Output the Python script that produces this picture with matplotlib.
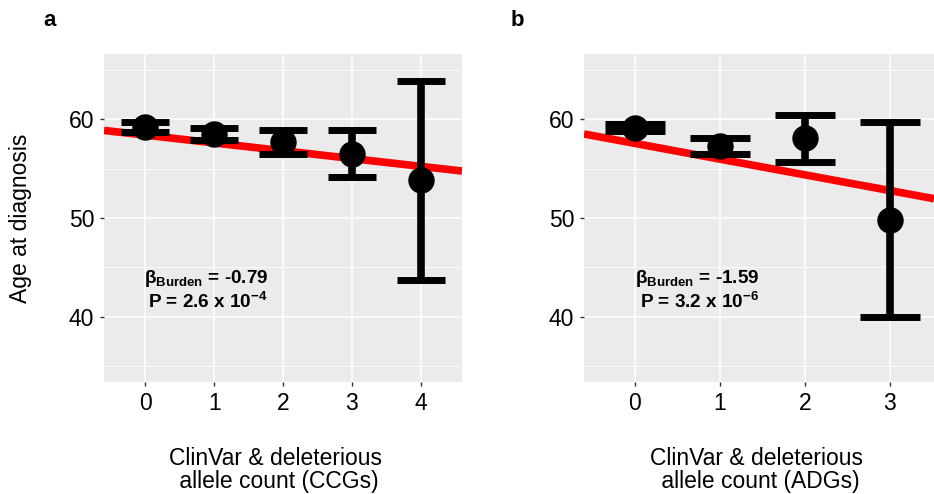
import matplotlib
matplotlib.use("Agg")
import matplotlib.pyplot as plt
import numpy as np

plt.rcParams['font.family'] = ['Liberation Sans', 'DejaVu Sans']
plt.rcParams['mathtext.fontset'] = 'custom'
plt.rcParams['mathtext.rm'] = 'Liberation Sans'
plt.rcParams['mathtext.bf'] = 'Liberation Sans:bold'

# panel a: CCGs
counts_a = [0, 1, 2, 3, 4]
mean_a = [59.2, 58.5, 57.7, 56.5, 53.8]
low_a = [58.7, 57.9, 56.5, 54.1, 43.7]
high_a = [59.7, 59.1, 58.9, 58.9, 63.9]
fit_a = (58.39, -0.79)          # intercept, slope
beta_a = "-0.79"
p_a = ("2.6", "-4")

# panel b: ADGs
counts_b = [0, 1, 2, 3]
mean_b = [59.1, 57.3, 58.05, 49.8]
low_b = [58.8, 56.5, 55.7, 40.0]
high_b = [59.55, 58.1, 60.4, 59.7]
fit_b = (57.55, -1.59)
beta_b = "-1.59"
p_b = ("3.2", "-6")

fig = plt.figure(figsize=(9.34, 4.94), dpi=100)
H = 494.0
W = 934.0
ax_a = fig.add_axes([104 / W, (H - 382) / H, 358 / W, 328 / H])
ax_b = fig.add_axes([584 / W, (H - 382) / H, 350 / W, 328 / H])

fs = 16.5


def panel(ax, x, m, lo, hi, fit, xlim, beta, p, txt_x, xlab, xlab_x):
    ax.set_facecolor('#EBEBEB')
    for s in ax.spines.values():
        s.set_visible(False)
    ax.set_xlim(*xlim)
    ax.set_ylim(33.4, 66.6)
    ax.set_xticks(x)
    ax.set_yticks([40, 50, 60])
    ax.set_yticks([35, 45, 55, 65], minor=True)
    ax.grid(which='major', color='white', lw=1.1)
    ax.grid(which='minor', axis='y', color='white', lw=0.55)
    ax.set_axisbelow(True)
    ax.tick_params(which='major', length=3, width=1, color='#333333',
                   labelsize=fs, labelcolor='black', pad=4)
    ax.tick_params(which='minor', length=0)

    # regression line, then error bars, then means on top
    xx = np.array(xlim)
    ax.plot(xx, fit[0] + fit[1] * xx, color='red', lw=5.5, zorder=2,
            solid_capstyle='butt')
    ax.vlines(x, lo, hi, color='black', lw=5.5, zorder=3)
    xs = np.array(x)
    ax.hlines(lo, xs - 0.35, xs + 0.35, color='black', lw=5, zorder=3)
    ax.hlines(hi, xs - 0.35, xs + 0.35, color='black', lw=5, zorder=3)
    ax.plot(x, m, 'o', color='black', ms=18, zorder=4)

    ax.text(txt_x, 43.9, r"β$_{\mathbf{Burden}}$ = " + beta, ha='center',
            va='center', fontsize=13.6, fontweight='bold')
    ax.text(txt_x + 0.02, 41.5, "P = " + p[0] + " x 10" + r"$^{\mathbf{" + p[1] + "}}$",
            ha='center', va='center', fontsize=13.6, fontweight='bold')

    ax.set_xlabel(xlab, fontsize=fs, linespacing=1.0, va='top')
    ax.xaxis.set_label_coords(xlab_x, -0.198)


panel(ax_a, counts_a, mean_a, low_a, high_a, fit_a, (-0.6, 4.6), beta_a, p_a,
      0.89, "ClinVar & deleterious\n allele count (CCGs)", 0.48)
panel(ax_b, counts_b, mean_b, low_b, high_b, fit_b, (-0.6, 3.52), beta_b, p_b,
      0.735, "ClinVar & deleterious\n allele count (ADGs)", 0.494)

ax_a.set_ylabel("Age at diagnosis", fontsize=fs)
ax_a.yaxis.set_label_coords(-0.201, 0.5)

fig.text(50 / W, 1 - 20 / H, "a", fontsize=16, fontweight='bold', ha='center', va='center')
fig.text(517 / W, 1 - 20 / H, "b", fontsize=16, fontweight='bold', ha='center', va='center')

fig.savefig("out.png", dpi=100)
